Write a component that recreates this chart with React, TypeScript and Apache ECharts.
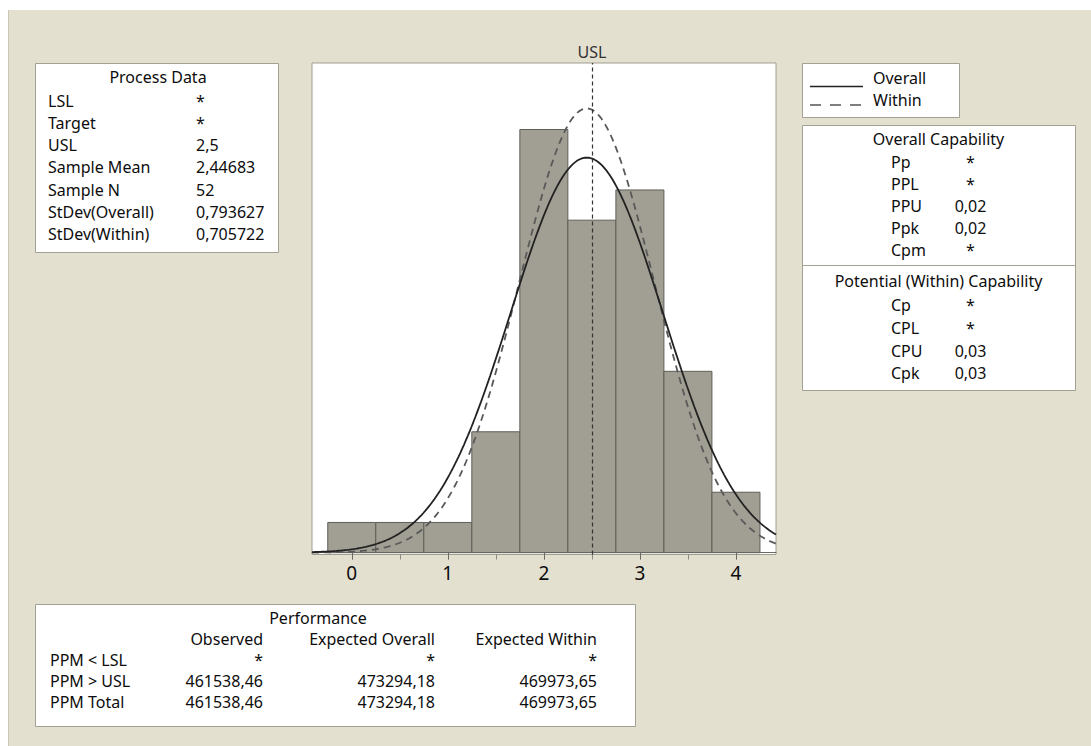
import React, { useEffect, useRef } from "react";
import * as echarts from "echarts";

// ---- data ----
const binStarts = [-0.25, 0.25, 0.75, 1.25, 1.75, 2.25, 2.75, 3.25, 3.75];
const binWidth = 0.5;
const binCounts = [1, 1, 1, 4, 14, 11, 12, 6, 2];
const usl = 2.5;
const sampleMean = 2.44683;
const sampleN = 52;
const stdevOverall = 0.793627;
const stdevWithin = 0.705722;
const xTickValues = [0, 1, 2, 3, 4];
const xMinorTickValues = [0.5, 1.5, 2.5, 3.5];
const xMin = -0.414;
const xMax = 4.417;

const processLabels = ["LSL", "Target", "USL", "Sample Mean", "Sample N", "StDev(Overall)", "StDev(Within)"];
const processValues = ["*", "*", "2,5", "2,44683", "52", "0,793627", "0,705722"];
const overallCapLabels = ["Pp", "PPL", "PPU", "Ppk", "Cpm"];
const overallCapValues = ["*", "*", "0,02", "0,02", "*"];
const withinCapLabels = ["Cp", "CPL", "CPU", "Cpk"];
const withinCapValues = ["*", "*", "0,03", "0,03"];
const perfHeaders = ["Observed", "Expected Overall", "Expected Within"];
const perfRowLabels = ["PPM < LSL", "PPM > USL", "PPM Total"];
const perfObserved = ["*", "461538,46", "461538,46"];
const perfExpOverall = ["*", "473294,18", "473294,18"];
const perfExpWithin = ["*", "469973,65", "469973,65"];

// fitted normal curves (scaled to counts) from the stated mean / stdev
function normalCurve(sd: number): number[][] {
  const pts: number[][] = [];
  const scale = sampleN * binWidth;
  for (let i = 0; i <= 250; i++) {
    const x = xMin + ((xMax - xMin) * i) / 250;
    const z = (x - sampleMean) / sd;
    pts.push([x, (scale / (sd * Math.sqrt(2 * Math.PI))) * Math.exp(-0.5 * z * z)]);
  }
  return pts;
}

const FONT = '"Noto Sans", "Open Sans", sans-serif';
const TXT = "#0d0d0d";
const BOXBORDER = "#a3a194";

function txt(text: string, x: number, y: number, align = "left", size = 16, color = TXT): any {
  return {
    type: "text",
    x,
    y,
    z: 10,
    style: {
      text,
      fill: color,
      font: `${size}px ${FONT}`,
      align,
      verticalAlign: "middle",
      textAlign: align,
      textVerticalAlign: "middle",
    },
  };
}

function box(x: number, y: number, w: number, h: number): any {
  return {
    type: "rect",
    z: 5,
    shape: { x: x + 0.5, y: y + 0.5, width: w, height: h },
    style: { fill: "#ffffff", stroke: BOXBORDER, lineWidth: 1 },
  };
}

export default function App() {
  const ref = useRef<HTMLDivElement>(null);
  useEffect(() => {
    if (!ref.current) return;
    const chart = echarts.init(ref.current, undefined, { renderer: "svg" });

    const graphics: any[] = [];
    // background
    graphics.push({ type: "rect", z: -10, shape: { x: 8, y: 10, width: 1083, height: 736 }, style: { fill: "#e3e0d0" } });
    graphics.push({ type: "line", z: -9, shape: { x1: 8.5, y1: 10, x2: 8.5, y2: 746 }, style: { stroke: "#c9c6b8", lineWidth: 1 } });

    // Process Data box
    graphics.push(box(35, 63, 243, 189));
    graphics.push(txt("Process Data", 158, 77, "center"));
    processLabels.forEach((l, i) => {
      graphics.push(txt(l, 48, 100.7 + 22.2 * i));
      graphics.push(txt(processValues[i], 196, 100.7 + 22.2 * i));
    });

    // Legend box
    graphics.push(box(802, 63, 157, 54));
    graphics.push({ type: "line", z: 10, shape: { x1: 810, y1: 86.5, x2: 863, y2: 86.5 }, style: { stroke: "#222", lineWidth: 1.6 } });
    graphics.push({ type: "line", z: 10, shape: { x1: 810, y1: 105, x2: 863, y2: 105 }, style: { stroke: "#555", lineWidth: 1.6, lineDash: [11, 9] } });
    graphics.push(txt("Overall", 873, 78));
    graphics.push(txt("Within", 873, 100));

    // Capability box
    graphics.push(box(802, 125, 273, 265));
    graphics.push({ type: "line", z: 10, shape: { x1: 802, y1: 265.5, x2: 1075, y2: 265.5 }, style: { stroke: BOXBORDER, lineWidth: 1 } });
    graphics.push(txt("Overall Capability", 938.5, 138.5, "center"));
    overallCapLabels.forEach((l, i) => {
      graphics.push(txt(l, 891, 162 + 22 * i));
      graphics.push(txt(overallCapValues[i], 970.5, 162 + 22 * i, "center"));
    });
    graphics.push(txt("Potential (Within) Capability", 938.5, 281, "center"));
    withinCapLabels.forEach((l, i) => {
      graphics.push(txt(l, 891, 305 + 22.8 * i));
      graphics.push(txt(withinCapValues[i], 970.5, 305 + 22.8 * i, "center"));
    });

    // Performance box
    graphics.push(box(35, 604, 600, 122));
    graphics.push(txt("Performance", 318, 618, "center"));
    const colRight = [263, 435, 597];
    perfHeaders.forEach((h, i) => graphics.push(txt(h, colRight[i], 639, "right")));
    perfRowLabels.forEach((l, r) => {
      const y = 660 + 21 * r;
      graphics.push(txt(l, 50, y));
      const cols = [perfObserved[r], perfExpOverall[r], perfExpWithin[r]];
      cols.forEach((v, c) => {
        graphics.push(txt(v, colRight[c], y, "right"));
      });
    });

    const histData = binStarts.map((s, i) => [s, s + binWidth, binCounts[i]]);

    chart.setOption({
      animation: false,
      backgroundColor: "#ffffff",
      grid: {
        left: 312,
        top: 63,
        right: 315,
        bottom: 191.5,
        show: true,
        backgroundColor: "#ffffff",
        borderColor: "#a09e91",
        borderWidth: 1,
        z: 0,
      },
      xAxis: [
        {
          type: "value",
          min: xMin,
          max: xMax,
          position: "bottom",
          splitLine: { show: false },
          axisLine: { show: true, lineStyle: { color: "#6a6a64", width: 1 } },
          axisTick: { show: true, customValues: xTickValues, length: 7, lineStyle: { color: "#6a6a64" } },
          axisLabel: {
            customValues: xTickValues,
            fontSize: 19,
            color: "#0d0d0d",
            fontFamily: FONT,
            margin: 9,
          },
        },
        {
          type: "value",
          min: xMin,
          max: xMax,
          position: "bottom",
          offset: 0,
          splitLine: { show: false },
          axisLine: { show: false },
          axisTick: { show: true, customValues: xMinorTickValues, length: 5, lineStyle: { color: "#8a8a82" } },
          axisLabel: { show: false },
        },
      ],
      yAxis: { type: "value", min: -0.06, max: 16.2, show: false, splitLine: { show: false } },
      series: [
        {
          type: "line",
          name: "USL",
          data: [],
          z: 1,
          markLine: {
            silent: true,
            symbol: ["none", "none"],
            animation: false,
            lineStyle: { color: "#333", width: 1.2, type: [4, 3] },
            label: { show: true, position: "end", formatter: "USL", fontSize: 16, color: "#333", fontFamily: FONT, distance: 3 },
            data: [{ xAxis: usl }],
          },
        },
        {
          type: "custom",
          name: "Histogram",
          z: 2,
          data: histData,
          renderItem: (_params: any, api: any) => {
            const p0 = api.coord([api.value(0), api.value(2)]);
            const p1 = api.coord([api.value(1), 0]);
            return {
              type: "rect",
              shape: { x: p0[0], y: p0[1], width: p1[0] - p0[0], height: p1[1] - p0[1] },
              style: { fill: "#a19f93", stroke: "#5f5e58", lineWidth: 1 },
            };
          },
        },
        {
          type: "line",
          name: "Overall",
          z: 4,
          data: normalCurve(stdevOverall),
          showSymbol: false,
          symbol: "none",
          lineStyle: { color: "#222", width: 1.8 },
        },
        {
          type: "line",
          name: "Within",
          z: 3,
          data: normalCurve(stdevWithin),
          showSymbol: false,
          symbol: "none",
          lineStyle: { color: "#595959", width: 1.8, type: [7, 5] },
        },
      ],
      graphic: { elements: graphics },
    });
    return () => chart.dispose();
  }, []);
  return <div ref={ref} style={{ position: "absolute", left: 0, top: 0, width: 1091, height: 746 }} />;
}
